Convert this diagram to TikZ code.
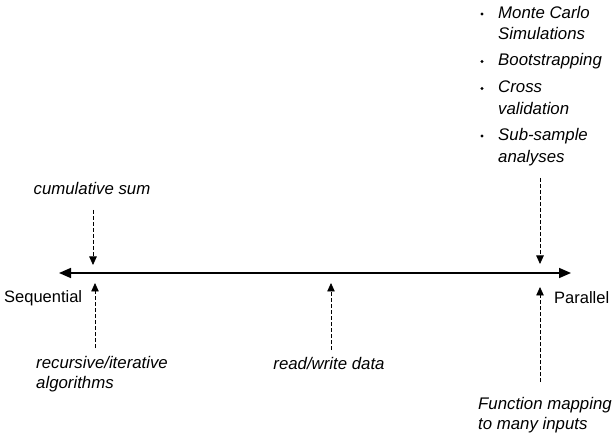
\documentclass[tikz,border=0pt]{standalone}
\usepackage{fontspec}
\setmainfont{Liberation Sans}
\usetikzlibrary{arrows.meta}
\begin{document}
\begin{tikzpicture}[x=1pt,y=-1pt,
  lbl/.style={font=\fontsize{16.8}{19.5}\selectfont\itshape, inner sep=0pt},
  item/.style={lbl, anchor=base west},
  pole/.style={font=\fontsize{16.5}{20}\selectfont, inner sep=0pt},
  axis/.style={line width=1.6pt, {Triangle[length=12pt,width=10pt]}-{Triangle[length=12pt,width=10pt]}},
  hint/.style={dash pattern=on 4pt off 2pt, line width=0.8pt, -{Triangle[length=8.5pt,width=7.5pt]}},
  dot/.style={fill=black}]
\useasboundingbox (0,0) rectangle (615,435);
% spectrum axis
\coordinate (L) at (59,273);
\coordinate (R) at (571,273);
\draw[axis] (L) -- (R);
% end labels
\node[pole, anchor=west] (seq) at (4,298) {Sequential};
\node[pole, anchor=west] (par) at (554,298) {Parallel};
% sequential side
\node[lbl] (cum) at (92,188) {cumulative sum};
\coordinate (cumtip) at (93,265);
\draw[hint] (93,210) -- (cumtip);
\node[lbl, anchor=west, align=left] (rec) at (36,374) {recursive/iterative\\algorithms};
\coordinate (rectip) at (95,283);
\draw[hint] (95,348) -- (rectip);
% middle
\node[lbl] (rw) at (329,363) {read/write data};
\coordinate (rwtip) at (331,283);
\draw[hint] (331,350) -- (rwtip);
% parallel side: bulleted list of examples
\node[item] (i1a) at (498,18.5) {Monte Carlo};
\node[item] (i1b) at (498,39.5) {Simulations};
\node[item] (i2)  at (498,66)   {Bootstrapping};
\node[item] (i3a) at (498,93)   {Cross};
\node[item] (i3b) at (498,114.5){validation};
\node[item] (i4a) at (498,140.5){Sub-sample};
\node[item] (i4b) at (498,163)  {analyses};
\foreach \y in {14,61.5,88.5,136}
  \fill[dot] (482,\y) circle (1.7pt);
\coordinate (partop) at (540,264);
\draw[hint] (540,178) -- (partop);
\node[lbl, anchor=west, align=left] (fun) at (478,415) {Function mapping\\to many inputs};
\coordinate (funtip) at (540,287);
\draw[hint] (540,382) -- (funtip);
\end{tikzpicture}
\end{document}
